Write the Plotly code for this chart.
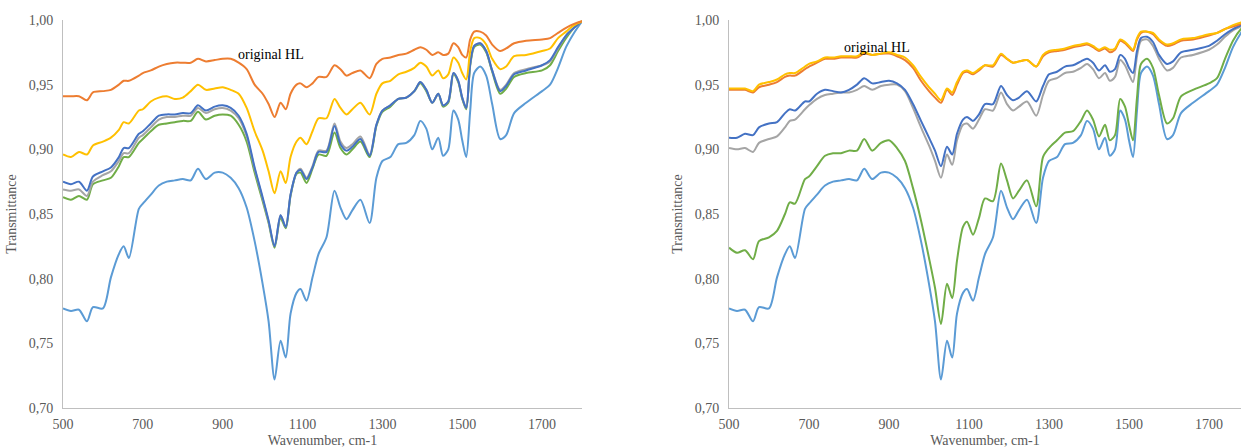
import plotly.graph_objects as go

# Wavenumber grid (cm-1)
wavenumber = [500,520,540,560,575,600,620,640,652,665,690,700,720,740,760,780,800,820,838,858,
              880,900,920,940,960,980,1000,1015,1030,1045,1058,1070,1085,1095,1110,1125,1140,1160,1180,1195,
              1210,1225,1245,1268,1285,1300,1320,1340,1360,1380,1395,1410,1425,1440,1452,1465,1478,1490,1500,1510,
              1520,1530,1545,1560,1575,1595,1610,1630,1660,1700,1720,1740,1760,1780,1800]

# Original HL (light blue, same in both panels)
original_hl = [.777,.775,.776,.767,.778,.777,.801,.819,.825,.816,.854,.858,.865,.872,.875,.876,.877,.876,.885,.877,
               .882,.882,.878,.870,.855,.829,.796,.767,.722,.752,.739,.773,.789,.792,.783,.801,.819,.832,.868,.855,
               .846,.853,.861,.843,.878,.891,.894,.904,.905,.911,.922,.916,.900,.909,.895,.900,.930,.923,.907,.894,
               .930,.959,.964,.957,.935,.908,.911,.928,.936,.945,.950,.963,.979,.990,.999]

# Left panel
left_orange = [.941,.941,.941,.938,.944,.945,.946,.950,.953,.953,.957,.959,.961,.964,.966,.967,.967,.967,.970,.968,
               .969,.970,.970,.967,.962,.950,.943,.935,.925,.936,.931,.943,.950,.951,.948,.951,.956,.956,.965,.962,
               .957,.959,.961,.955,.966,.970,.971,.973,.974,.977,.979,.977,.973,.975,.973,.974,.982,.979,.973,.971,
               .985,.991,.991,.988,.981,.976,.978,.982,.984,.985,.986,.990,.994,.997,.999]
left_yellow = [.896,.894,.898,.896,.903,.906,.909,.915,.921,.920,.930,.931,.937,.940,.941,.939,.940,.945,.950,.946,
               .947,.948,.946,.943,.932,.914,.899,.883,.866,.883,.874,.894,.906,.909,.904,.914,.924,.924,.939,.932,
               .927,.931,.936,.927,.943,.951,.953,.958,.960,.963,.967,.964,.957,.961,.955,.958,.971,.967,.959,.954,
               .976,.986,.986,.981,.970,.962,.964,.972,.973,.976,.978,.986,.991,.996,.999]
left_blue = [.875,.873,.875,.868,.879,.883,.886,.894,.901,.901,.912,.914,.920,.926,.927,.927,.928,.928,.934,.930,
             .933,.934,.932,.926,.912,.886,.863,.845,.825,.849,.840,.865,.882,.884,.877,.886,.898,.898,.918,.904,
             .899,.902,.908,.895,.919,.930,.934,.939,.940,.945,.952,.946,.936,.943,.934,.937,.959,.953,.940,.932,
             .966,.980,.982,.976,.961,.945,.949,.958,.961,.965,.969,.979,.988,.994,.999]
left_gray = [.869,.868,.869,.864,.875,.880,.883,.891,.897,.897,.909,.911,.917,.923,.925,.925,.926,.926,.932,.928,
             .931,.932,.930,.924,.910,.885,.862,.844,.825,.849,.840,.865,.882,.885,.878,.887,.899,.899,.920,.906,
             .901,.904,.910,.896,.919,.930,.934,.939,.940,.945,.952,.946,.936,.943,.934,.937,.959,.953,.940,.932,
             .966,.980,.982,.976,.961,.946,.950,.959,.962,.965,.968,.978,.988,.994,.999]
left_green = [.863,.861,.864,.861,.873,.876,.878,.887,.894,.894,.905,.908,.914,.919,.920,.921,.922,.922,.929,.923,
              .926,.927,.926,.919,.906,.882,.860,.843,.824,.847,.839,.864,.881,.882,.874,.885,.896,.895,.913,.901,
              .896,.900,.906,.894,.918,.929,.933,.939,.940,.945,.951,.945,.936,.943,.933,.936,.958,.952,.939,.931,
              .965,.979,.981,.975,.960,.943,.947,.956,.959,.961,.965,.976,.986,.994,.999]

# Right panel
right_orange = [.946,.946,.946,.944,.948,.950,.952,.956,.957,.957,.962,.964,.967,.970,.970,.971,.971,.971,.974,.973,
                .974,.974,.972,.969,.963,.953,.945,.940,.936,.946,.942,.950,.959,.960,.958,.961,.965,.964,.973,.970,
                .967,.968,.969,.964,.972,.975,.976,.977,.979,.980,.981,.979,.976,.978,.975,.977,.984,.982,.979,.976,
                .985,.990,.991,.989,.984,.980,.981,.984,.985,.988,.990,.993,.995,.997,.999]
right_yellow = [.947,.947,.947,.945,.950,.952,.954,.958,.959,.959,.964,.966,.968,.971,.971,.972,.972,.972,.975,.973,
                .974,.975,.973,.971,.965,.956,.948,.943,.938,.947,.944,.952,.960,.961,.959,.962,.965,.965,.974,.970,
                .967,.968,.969,.964,.973,.976,.977,.978,.980,.981,.982,.980,.977,.979,.977,.978,.985,.983,.980,.977,
                .986,.991,.991,.990,.985,.981,.982,.985,.986,.989,.990,.993,.996,.998,.999]
right_blue = [.909,.909,.912,.911,.917,.920,.921,.928,.931,.930,.937,.937,.943,.946,.945,.944,.946,.950,.955,.951,
              .952,.953,.951,.946,.935,.922,.909,.899,.887,.902,.896,.912,.923,.925,.922,.927,.935,.935,.949,.942,
              .938,.940,.945,.937,.949,.958,.960,.964,.965,.968,.970,.967,.961,.965,.960,.962,.973,.970,.963,.959,
              .976,.986,.987,.983,.973,.966,.968,.975,.977,.980,.984,.989,.993,.996,.999]
right_gray = [.901,.900,.901,.898,.905,.908,.910,.917,.922,.923,.931,.934,.939,.942,.943,.944,.944,.946,.949,.946,
              .949,.950,.950,.945,.932,.917,.903,.891,.878,.896,.888,.907,.919,.920,.916,.923,.931,.930,.944,.935,
              .930,.933,.937,.926,.942,.953,.955,.959,.960,.963,.966,.962,.955,.959,.953,.956,.969,.965,.958,.952,
              .972,.984,.985,.980,.970,.961,.963,.971,.973,.977,.981,.987,.992,.995,.998]
right_green = [.824,.820,.822,.815,.829,.832,.837,.850,.859,.858,.877,.879,.887,.895,.897,.897,.899,.899,.908,.899,
               .905,.907,.901,.891,.870,.845,.816,.793,.765,.796,.785,.814,.840,.844,.834,.847,.862,.860,.889,.876,
               .862,.868,.876,.856,.894,.901,.907,.913,.914,.922,.930,.923,.910,.919,.907,.911,.939,.933,.919,.907,
               .940,.966,.970,.963,.942,.920,.924,.941,.946,.951,.955,.970,.984,.993,.998]

y_ticks = [0.70, 0.75, 0.80, 0.85, 0.90, 0.95, 1.00]
y_tick_labels = ["0,70", "0,75", "0,80", "0,85", "0,90", "0,95", "1,00"]
x_ticks = [500, 700, 900, 1100, 1300, 1500, 1700]
annotation_text = "original HL"

C_BLUE = "#4472C4"; C_ORANGE = "#ED7D31"; C_GRAY = "#A5A5A5"
C_YELLOW = "#FFC000"; C_LBLUE = "#5B9BD5"; C_GREEN = "#70AD47"

fig = go.Figure()

def add(series, color, xa, ya):
    fig.add_trace(go.Scatter(x=wavenumber, y=series, mode="lines",
                             line=dict(color=color, width=2, shape="spline", smoothing=0.8),
                             xaxis=xa, yaxis=ya, showlegend=False, hoverinfo="skip"))

for s, c in [(original_hl, C_LBLUE), (left_green, C_GREEN), (left_gray, C_GRAY),
             (left_blue, C_BLUE), (left_yellow, C_YELLOW), (left_orange, C_ORANGE)]:
    add(s, c, "x", "y")
for s, c in [(original_hl, C_LBLUE), (right_green, C_GREEN), (right_gray, C_GRAY),
             (right_blue, C_BLUE), (right_orange, C_ORANGE), (right_yellow, C_YELLOW)]:
    add(s, c, "x2", "y2")

FONT = "Liberation Serif"
TICKC = "#595959"
ydom = [40/448, 428/448]
axis_common = dict(showgrid=False, zeroline=False, showline=True, linecolor="#BFBFBF",
                   linewidth=1, ticks="", automargin=False,
                   tickfont=dict(family=FONT, size=14, color=TICKC))
xaxis_common = dict(axis_common, ticklabelstandoff=3)
yaxis_common = dict(axis_common, ticklabelstandoff=6)
xtitle = dict(text="Wavenumber, cm-1", font=dict(family=FONT, size=14, color=TICKC), standoff=8)
ytitle = dict(text="Transmittance", font=dict(family=FONT, size=14, color=TICKC), standoff=8)

fig.update_layout(
    width=1241, height=448,
    margin=dict(l=0, r=0, t=0, b=0, autoexpand=False),
    paper_bgcolor="white", plot_bgcolor="white",
    font=dict(family=FONT, color=TICKC),
    xaxis=dict(domain=[63/1241, 582/1241], range=[500, 1800], tickvals=x_ticks,
               anchor="y", title=xtitle, **xaxis_common),
    yaxis=dict(domain=ydom, range=[0.70, 1.00], tickvals=y_ticks, ticktext=y_tick_labels,
               anchor="x", title=ytitle, **yaxis_common),
    xaxis2=dict(domain=[729/1241, 1.0], range=[500, 1780], tickvals=x_ticks,
                anchor="y2", title=xtitle, **xaxis_common),
    yaxis2=dict(domain=ydom, range=[0.70, 1.00], tickvals=y_ticks, ticktext=y_tick_labels,
                anchor="x2", title=ytitle, **yaxis_common),
    annotations=[
        dict(text=annotation_text, x=236/1241, y=1-45/448, xref="paper", yref="paper",
             showarrow=False, font=dict(family=FONT, size=14, color="black")),
        dict(text=annotation_text, x=912/1241, y=1-38/448, xref="paper", yref="paper",
             showarrow=False, font=dict(family=FONT, size=14, color="black")),
    ],
)

fig.write_html("out.html", config={"displayModeBar": False},
               post_script="document.body.style.margin='0';document.body.style.overflow='hidden';")
